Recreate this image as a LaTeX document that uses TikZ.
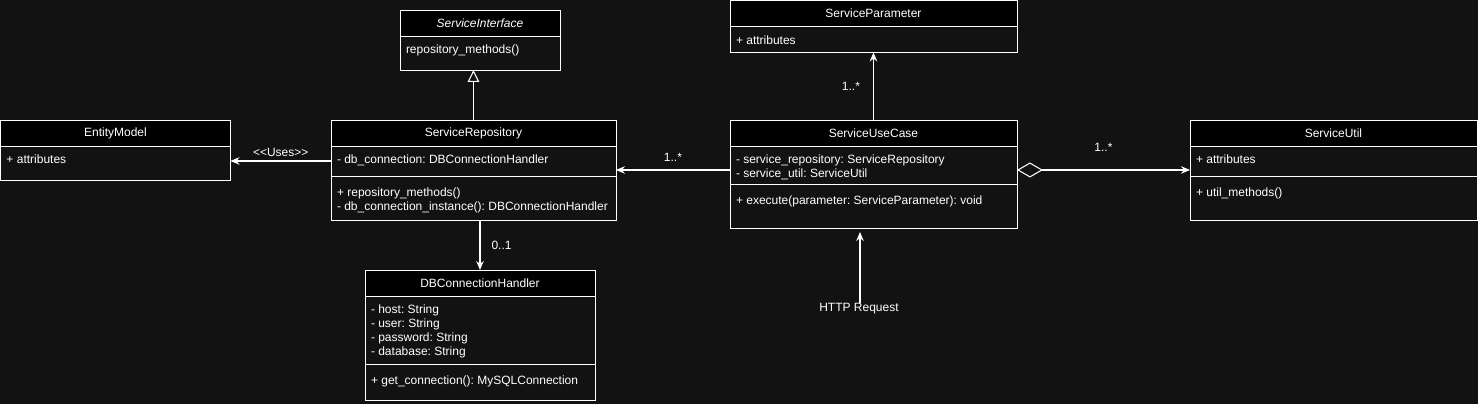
\documentclass[tikz,border=0pt]{standalone}
\usepackage{fontspec}
\usepackage{xcolor}
\usepackage{tikz}
\usetikzlibrary{positioning, calc, arrows.meta}

\newfontfamily\umlfont{Liberation Sans}
\newcommand{\umltext}{\umlfont\fontsize{6.83}{7.97}\selectfont\frenchspacing}
\definecolor{canvas}{HTML}{121212}

\begin{document}
\begin{tikzpicture}[
        x=0.02cm, y=-0.02cm,
        % Style for the class name row
        classhead/.style={
            draw=white,
            fill=black,
            text=white,
            anchor=north west,
            minimum height=0.52cm,
            inner sep=0pt,
            outer sep=0pt,
            font=\umltext
        },
        % Style for the attribute rows
        classbody/.style={
            draw=white,
            fill=canvas,
            text=white,
            align=flush left,
            inner xsep=0.12cm,
            inner ysep=0pt,
            outer sep=0pt,
            text height=0.36cm,
            font=\umltext
        },
        % Style for the method rows
        opsbody/.style={
            classbody,
            text height=0.42cm
        },
        % Style for the connectors
        assoc/.style={
            draw=white,
            line width=0.6pt,
            -{Stealth[length=0.18cm, width=0.15cm]}
        },
        % Style for multiplicities and free labels
        mult/.style={
            text=white,
            inner sep=0pt,
            font=\umltext
        }
    ]

    \fill[canvas] (0,0) rectangle (1478,404);
    \useasboundingbox (0,0) rectangle (1478,404);

    % ==========================================
    % LEFT CLASSES
    % ==========================================
    \node[classhead, minimum width=4.6cm] (entity) at (0.5,120) {EntityModel};
    \node[classbody, text width=4.36cm, text depth=0.32cm, below=0pt of entity] (entityAttr) {+ attributes};

    \node[classhead, minimum width=3.2cm] (iface) at (400,10) {\itshape ServiceInterface};
    \node[classbody, text width=2.96cm, text depth=0.32cm, below=0pt of iface] (ifaceAttr) {repository\_methods()};

    \node[classhead, minimum width=5.7cm] (repo) at (331,120) {ServiceRepository};
    \node[classbody, text width=5.46cm, text depth=0.24cm, below=0pt of repo] (repoAttr) {- db\_connection: DBConnectionHandler};
    \node[opsbody, text width=5.46cm, text depth=0.46cm, below=0pt of repoAttr] (repoOps) {+ repository\_methods()\\- db\_connection\_instance(): DBConnectionHandler};

    \node[classhead, minimum width=4.6cm] (dbconn) at (365,270) {DBConnectionHandler};
    \node[classbody, text width=4.36cm, text depth=1.0cm, below=0pt of dbconn] (dbconnAttr) {- host: String\\- user: String\\- password: String\\- database: String};
    \node[opsbody, text width=4.36cm, text depth=0.30cm, below=0pt of dbconnAttr] (dbconnOps) {+ get\_connection(): MySQLConnection};

    % ==========================================
    % RIGHT CLASSES
    % ==========================================
    \node[classhead, minimum width=5.74cm] (param) at (730,0.5) {ServiceParameter};
    \node[classbody, text width=5.5cm, text depth=0.16cm, below=0pt of param] (paramAttr) {+ attributes};

    \node[classhead, minimum width=5.74cm] (usecase) at (730,120) {ServiceUseCase};
    \node[classbody, text width=5.5cm, text depth=0.40cm, below=0pt of usecase] (usecaseAttr) {- service\_repository: ServiceRepository\\- service\_util: ServiceUtil};
    \node[opsbody, text width=5.5cm, text depth=0.46cm, below=0pt of usecaseAttr] (usecaseOps) {+ execute(parameter: ServiceParameter): void};

    \node[classhead, minimum width=5.74cm] (util) at (1190,120) {ServiceUtil};
    \node[classbody, text width=5.5cm, text depth=0.24cm, below=0pt of util] (utilAttr) {+ attributes};
    \node[opsbody, text width=5.5cm, text depth=0.46cm, below=0pt of utilAttr] (utilOps) {+ util\_methods()};

    \node[mult] (http) at (859,309) {HTTP Request};

    % ==========================================
    % CONNECTORS
    % ==========================================
    \coordinate (repoLink) at ($(usecaseAttr.west)+(0,5)$);
    \coordinate (utilLink) at ($(usecaseAttr.east)+(0,5)$);
    \coordinate (httpEnd) at (860,232);

    \draw[assoc] (repoAttr.west) -- (repoAttr.west -| entityAttr.east)
        node[mult, midway, above=0.07cm] {{<}{<}Uses{>}{>}};
    \draw[line width=0.6pt, draw=white, -{Triangle[open, length=0.24cm, width=0.23cm]}]
        (repo.north) -- (repo.north |- ifaceAttr.south);
    \draw[assoc] (dbconn.north |- repoOps.south) -- (dbconn.north)
        node[mult, midway, right=0.22cm] {0..1};
    \draw[assoc] (repoLink) -- (repoLink -| repoAttr.east)
        node[mult, midway, above=0.15cm] {1..*};
    \draw[assoc] (usecase.north) -- (usecase.north |- paramAttr.south)
        node[mult, midway, left=0.26cm] {1..*};
    \draw[assoc, {Diamond[open, length=0.52cm, width=0.3cm]}-{Stealth[length=0.18cm, width=0.15cm]}]
        (utilLink) -- (utilLink -| utilAttr.west)
        node[mult, midway, above=0.35cm] {1..*};
    \draw[assoc] (httpEnd |- http.north) -- (httpEnd);
\end{tikzpicture}
\end{document}
